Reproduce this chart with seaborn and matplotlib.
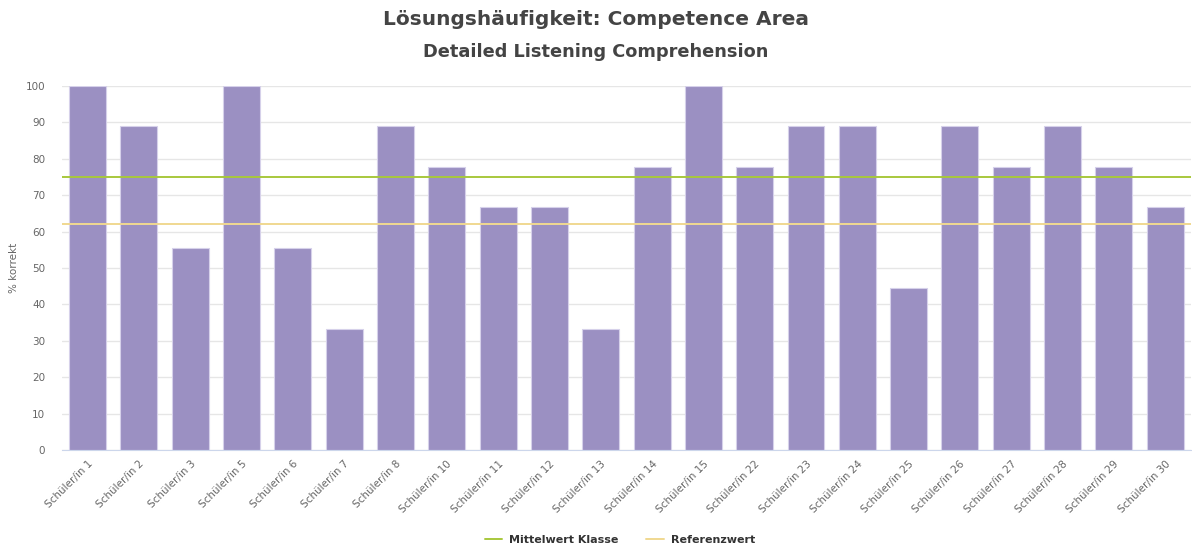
import numpy as np
import pandas as pd
import matplotlib
matplotlib.use("Agg")
import matplotlib.pyplot as plt
from matplotlib.lines import Line2D
import seaborn as sns

students = [1, 2, 3, 5, 6, 7, 8, 10, 11, 12, 13, 14, 15, 22, 23, 24, 25, 26, 27, 28, 29, 30]
labels = [f"Schüler/in {n}" for n in students]
percent_correct = [100, 88.9, 55.6, 100, 55.6, 33.3, 88.9, 77.8, 66.7, 66.7, 33.3,
                   77.8, 100, 77.8, 88.9, 88.9, 44.4, 88.9, 77.8, 88.9, 77.8, 66.7]
class_mean = 75.0
reference_value = 62.0

df = pd.DataFrame({"student": labels, "pct": percent_correct})

sns.set_style("white")
plt.rcParams["font.family"] = ["DejaVu Sans"]

fig = plt.figure(figsize=(11.92, 5.47), dpi=100)
ax = fig.add_axes([0.052, 0.177, 0.947, 0.666])

sns.barplot(data=df, x="student", y="pct", color="#9b90c2", saturation=1,
            width=0.72, edgecolor="#d6d1ea", linewidth=0.8, ax=ax, zorder=2)

ax.axhline(class_mean, color="#a8c83c", lw=1.4, zorder=3)
ax.axhline(reference_value, color="#f0d890", lw=1.4, zorder=3)

ax.set_ylim(0, 100)
ax.set_xlim(-0.5, len(labels) - 0.5)
ax.set_yticks(range(0, 101, 10))
ax.yaxis.grid(True, color="#e6e6e6", lw=1, zorder=0)
ax.set_axisbelow(True)
for s in ["top", "right", "left"]:
    ax.spines[s].set_visible(False)
ax.spines["bottom"].set_color("#ccd6eb")

ax.set_xticks(np.arange(len(labels)))
ax.set_xticklabels(labels, rotation=45, ha="right", rotation_mode="anchor",
                   fontsize=7.5, color="#666666")
ax.tick_params(axis="x", length=0, pad=6)
ax.set_xticks(np.arange(-0.5, len(labels), 1), minor=True)
ax.tick_params(axis="x", which="minor", length=8, color="#ccd6eb")
ax.tick_params(axis="y", length=0, labelsize=7.5, labelcolor="#666666", pad=12)

ax.set_xlabel("")
ax.set_ylabel("% korrekt", fontsize=7.5, color="#666666", labelpad=5)

fig.text(0.5, 0.965, "Lösungshäufigkeit: Competence Area", ha="center", va="center",
         fontsize=14.5, fontweight="bold", color="#444444")
fig.text(0.5, 0.905, "Detailed Listening Comprehension", ha="center", va="center",
         fontsize=12.8, fontweight="bold", color="#444444")

handles = [Line2D([], [], color="#a8c83c", lw=1.4),
           Line2D([], [], color="#f0d890", lw=1.4)]
leg = fig.legend(handles, ["Mittelwert Klasse", "Referenzwert"], loc="center",
                 bbox_to_anchor=(0.52, 0.013), ncol=2, frameon=False,
                 prop={"size": 8, "weight": "bold"}, handlelength=1.6,
                 columnspacing=2.5, handletextpad=0.6)
for t in leg.get_texts():
    t.set_color("#333333")

fig.savefig("out.png", dpi=100)
